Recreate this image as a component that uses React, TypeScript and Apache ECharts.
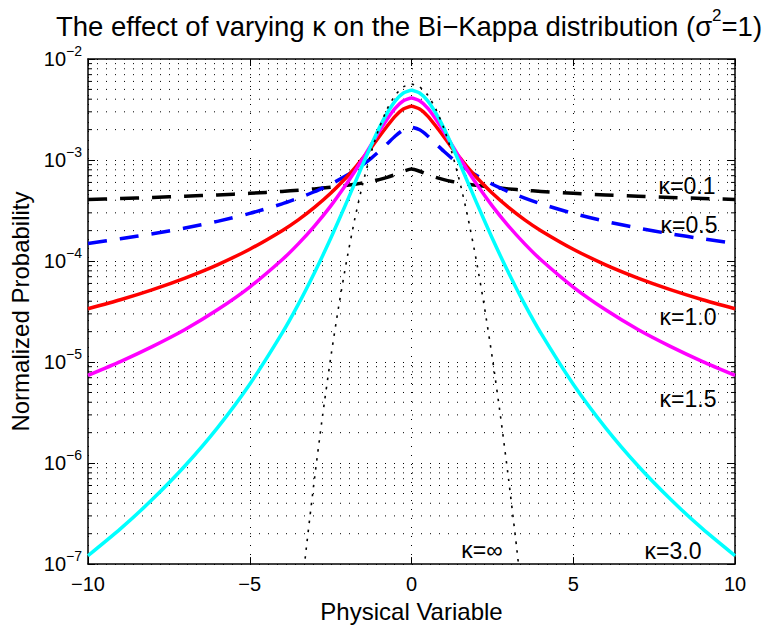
import React, { useEffect, useRef } from 'react';
import * as echarts from 'echarts';

// x positions (Physical Variable) at which the curves were read
const xValues = [
  -10, -9, -8, -7, -6, -5, -4, -3.5, -3, -2.5, -2, -1.75, -1.5, -1.25, -1, -0.75, -0.5, -0.25,
  0, 0.25, 0.5, 0.75, 1, 1.25, 1.5, 1.75, 2, 2.5, 3, 3.5, 4, 5, 6, 7, 8, 9, 10,
];

// kappa = 0.1 (black dashed)
const kappa01 = [
  4.07e-4, 4.16e-4, 4.26e-4, 4.38e-4, 4.51e-4, 4.68e-4, 4.89e-4, 5.02e-4, 5.18e-4, 5.37e-4, 5.61e-4, 5.75e-4, 5.93e-4, 6.14e-4, 6.40e-4, 6.73e-4, 7.18e-4, 7.74e-4,
  8.13e-4, 7.74e-4, 7.18e-4, 6.73e-4, 6.40e-4, 6.14e-4, 5.93e-4, 5.75e-4, 5.61e-4, 5.37e-4, 5.18e-4, 5.02e-4, 4.89e-4, 4.68e-4, 4.51e-4, 4.38e-4, 4.26e-4, 4.16e-4, 4.07e-4,
];
// kappa = 0.5 (blue dashed)
const kappa05 = [
  1.49e-4, 1.66e-4, 1.86e-4, 2.12e-4, 2.47e-4, 2.96e-4, 3.68e-4, 4.19e-4, 4.85e-4, 5.75e-4, 7.05e-4, 7.93e-4, 9.02e-4, 1.04e-3, 1.22e-3, 1.45e-3, 1.73e-3, 1.99e-3,
  2.11e-3, 1.99e-3, 1.73e-3, 1.45e-3, 1.22e-3, 1.04e-3, 9.02e-4, 7.93e-4, 7.05e-4, 5.75e-4, 4.85e-4, 4.19e-4, 3.68e-4, 2.96e-4, 2.47e-4, 2.12e-4, 1.86e-4, 1.66e-4, 1.49e-4,
];
// kappa = 1.0 (red)
const kappa10 = [
  3.37e-5, 4.14e-5, 5.22e-5, 6.79e-5, 9.18e-5, 1.31e-4, 2.0e-4, 2.56e-4, 3.40e-4, 4.69e-4, 6.79e-4, 8.36e-4, 1.05e-3, 1.32e-3, 1.70e-3, 2.17e-3, 2.72e-3, 3.20e-3,
  3.40e-3, 3.20e-3, 2.72e-3, 2.17e-3, 1.70e-3, 1.32e-3, 1.05e-3, 8.36e-4, 6.79e-4, 4.69e-4, 3.40e-4, 2.56e-4, 2.0e-4, 1.31e-4, 9.18e-5, 6.79e-5, 5.22e-5, 4.14e-5, 3.37e-5,
];
// kappa = 1.5 (magenta)
const kappa15 = [
  7.38e-6, 1.01e-5, 1.43e-5, 2.10e-5, 3.29e-5, 5.53e-5, 1.03e-4, 1.48e-4, 2.22e-4, 3.50e-4, 5.86e-4, 7.74e-4, 1.04e-3, 1.41e-3, 1.91e-3, 2.55e-3, 3.27e-3, 3.86e-3,
  4.11e-3, 3.86e-3, 3.27e-3, 2.55e-3, 1.91e-3, 1.41e-3, 1.04e-3, 7.74e-4, 5.86e-4, 3.50e-4, 2.22e-4, 1.48e-4, 1.03e-4, 5.53e-5, 3.29e-5, 2.10e-5, 1.43e-5, 1.01e-5, 7.38e-6,
];
// kappa = 3.0 (cyan)
const kappa30 = [
  1.21e-7, 2.23e-7, 4.40e-7, 9.40e-7, 2.23e-6, 6.03e-6, 1.93e-5, 3.72e-5, 7.66e-5, 1.67e-4, 3.85e-4, 5.93e-4, 9.14e-4, 1.39e-3, 2.07e-3, 2.92e-3, 3.85e-3, 4.60e-3,
  4.90e-3, 4.60e-3, 3.85e-3, 2.92e-3, 2.07e-3, 1.39e-3, 9.14e-4, 5.93e-4, 3.85e-4, 1.67e-4, 7.66e-5, 3.72e-5, 1.93e-5, 6.03e-6, 2.23e-6, 9.40e-7, 4.40e-7, 2.23e-7, 1.21e-7,
];

// kappa = infinity (black dotted)
const gaussX = [
  -3.5, -3.25, -3, -2.75, -2.5, -2.25, -2, -1.75, -1.5, -1.25, -1, -0.75, -0.5, -0.25,
  0, 0.25, 0.5, 0.75, 1, 1.25, 1.5, 1.75, 2, 2.25, 2.5, 2.75, 3, 3.25, 3.5,
];
const gaussY = [
  2.70e-8, 1.46e-7, 6.97e-7, 2.93e-6, 1.09e-5, 3.57e-5, 1.03e-4, 2.64e-4, 5.94e-4, 1.18e-3, 2.07e-3, 3.21e-3, 4.40e-3, 5.30e-3,
  5.64e-3, 5.30e-3, 4.40e-3, 3.21e-3, 2.07e-3, 1.18e-3, 5.94e-4, 2.64e-4, 1.03e-4, 3.57e-5, 1.09e-5, 2.93e-6, 6.97e-7, 1.46e-7, 2.70e-8,
];

const curveLabels = ['κ=0.1', 'κ=0.5', 'κ=1.0', 'κ=1.5', 'κ=∞', 'κ=3.0'];

const FONT = '"Liberation Sans", Arial, Helvetica, sans-serif';

// minor log ticks 2..9 x 10^k
const minorValues: number[] = [];
for (let e = -7; e <= -3; e++) {
  for (let m = 2; m <= 9; m++) minorValues.push(Number((m * Math.pow(10, e)).toPrecision(2)));
}

function curve(name: string, ys: number[], xs: number[], color: string, type: any, width: number) {
  return {
    name,
    type: 'line',
    data: xs.map((x, i) => [x, ys[i]]),
    symbol: 'none',
    showSymbol: false,
    smooth: 0.2,
    clip: true,
    silent: true,
    z: 4,
    lineStyle: { color, width, type, cap: 'butt', join: 'round' },
  };
}

export default function App() {
  const ref = useRef<HTMLDivElement>(null);
  useEffect(() => {
    const chart = echarts.init(ref.current!, null, { renderer: 'svg' });
    const axisLineStyle = { color: '#000', width: 1.5 };
    const option: any = {
      animation: false,
      backgroundColor: '#fff',
      title: {
        text: '{a|The effect of varying κ on the Bi−Kappa distribution (σ}{s|2}{a|=1)}',
        left: 404,
        top: 2,
        textAlign: 'center',
        textStyle: {
          fontWeight: 'normal',
          rich: {
            a: { fontSize: 27.5, fontFamily: FONT, fontWeight: 'normal', color: '#000', lineHeight: 38 },
            s: { fontSize: 17, fontFamily: FONT, fontWeight: 'normal', color: '#000', lineHeight: 14, verticalAlign: 'top' },
          },
        },
      },
      grid: { left: 88, right: 39, top: 59, bottom: 60, show: false },
      xAxis: [
        {
          type: 'value',
          min: -10,
          max: 10,
          interval: 5,
          position: 'bottom',
          axisLine: { show: true, onZero: false, lineStyle: axisLineStyle },
          axisTick: { show: true, inside: true, length: 7, lineStyle: { color: '#000', width: 1 } },
          axisLabel: {
            color: '#000',
            fontSize: 20,
            fontFamily: FONT,
            margin: 10,
            formatter: (v: number) => String(v).replace('-', '−'),
          },
          splitLine: { show: true, lineStyle: { color: '#000', width: 1, type: [1, 8] } },
          name: 'Physical Variable',
          nameLocation: 'middle',
          nameGap: 31,
          nameTextStyle: { color: '#000', fontSize: 24, fontFamily: FONT },
        },
        {
          type: 'value',
          min: -10,
          max: 10,
          interval: 5,
          position: 'top',
          axisLine: { show: true, onZero: false, lineStyle: axisLineStyle },
          axisTick: { show: true, inside: true, length: 7, lineStyle: { color: '#000', width: 1 } },
          axisLabel: { show: false },
          splitLine: { show: false },
        },
      ],
      yAxis: [
        {
          type: 'log',
          logBase: 10,
          min: 1e-7,
          max: 1e-2,
          splitNumber: 5,
          position: 'left',
          axisLine: { show: true, onZero: false, lineStyle: axisLineStyle },
          axisTick: { show: true, inside: true, length: 7, lineStyle: { color: '#000', width: 1 } },
          axisLabel: {
            margin: 6,
            showMinLabel: true,
            showMaxLabel: true,
            formatter: (v: number) => {
              const e = Math.round(Math.log10(v));
              return `{b|10}{s|${e < 0 ? '−' : ''}${Math.abs(e)}}`;
            },
            rich: {
              b: { fontSize: 20, fontFamily: FONT, color: '#000', lineHeight: 30 },
              s: { fontSize: 14, fontFamily: FONT, color: '#000', lineHeight: 10, verticalAlign: 'top' },
            },
          },
          splitLine: { show: true, lineStyle: { color: '#000', width: 1, type: [1, 8] } },
          name: 'Normalized Probability',
          nameLocation: 'middle',
          nameGap: 50,
          nameRotate: 90,
          nameTextStyle: { color: '#000', fontSize: 24, fontFamily: FONT },
        },
        {
          type: 'log',
          logBase: 10,
          min: 1e-7,
          max: 1e-2,
          splitNumber: 5,
          position: 'right',
          axisLine: { show: true, onZero: false, lineStyle: axisLineStyle },
          axisTick: { show: true, inside: true, length: 7, lineStyle: { color: '#000', width: 1 } },
          axisLabel: { show: false },
          splitLine: { show: false },
        },
      ],
      series: [
        {
          name: 'minor-grid',
          type: 'custom',
          silent: true,
          z: 1,
          clip: false,
          data: minorValues.map((v) => [0, v]),
          renderItem: (params: any, api: any) => {
            const v = api.value(1);
            const l = api.coord([-10, v]);
            const r = api.coord([10, v]);
            return {
              type: 'group',
              children: [
                {
                  type: 'line',
                  shape: { x1: l[0], y1: l[1], x2: r[0], y2: r[1] },
                  style: { stroke: '#000', lineWidth: 1, lineDash: [1, 8], fill: null },
                },
                {
                  type: 'line',
                  shape: { x1: l[0], y1: l[1], x2: l[0] + 4, y2: l[1] },
                  style: { stroke: '#000', lineWidth: 1, fill: null },
                },
                {
                  type: 'line',
                  shape: { x1: r[0] - 4, y1: r[1], x2: r[0], y2: r[1] },
                  style: { stroke: '#000', lineWidth: 1, fill: null },
                },
              ],
            };
          },
        },
        curve('κ=0.1', kappa01, xValues, '#000000', [19, 13], 3.5),
        curve('κ=0.5', kappa05, xValues, '#0000ff', [19, 13], 3.5),
        curve('κ=1.0', kappa10, xValues, '#ff0000', 'solid', 3.5),
        curve('κ=1.5', kappa15, xValues, '#ff00ff', 'solid', 3.5),
        curve('κ=3.0', kappa30, xValues, '#00ffff', 'solid', 3.5),
        curve('κ=∞', gaussY, gaussX, '#000000', [2.5, 6.5], 1.6),
      ],
      graphic: [
        { pos: [687, 186], i: 0 },
        { pos: [689, 225], i: 1 },
        { pos: [688, 317], i: 2 },
        { pos: [688, 399], i: 3 },
        { pos: [482, 550], i: 4 },
        { pos: [673, 551], i: 5 },
      ].map((d) => ({
        type: 'text',
        x: d.pos[0],
        y: d.pos[1],
        z: 10,
        style: {
          text: curveLabels[d.i],
          font: `23px ${FONT}`,
          fill: '#000',
          align: 'center',
          verticalAlign: 'middle',
          textAlign: 'center',
          textVerticalAlign: 'middle',
        },
      })),
    };
    chart.setOption(option);
    return () => chart.dispose();
  }, []);
  return (
    <div
      ref={ref}
      style={{ position: 'absolute', left: 0, top: 0, width: 774, height: 628, background: '#fff' }}
    />
  );
}
